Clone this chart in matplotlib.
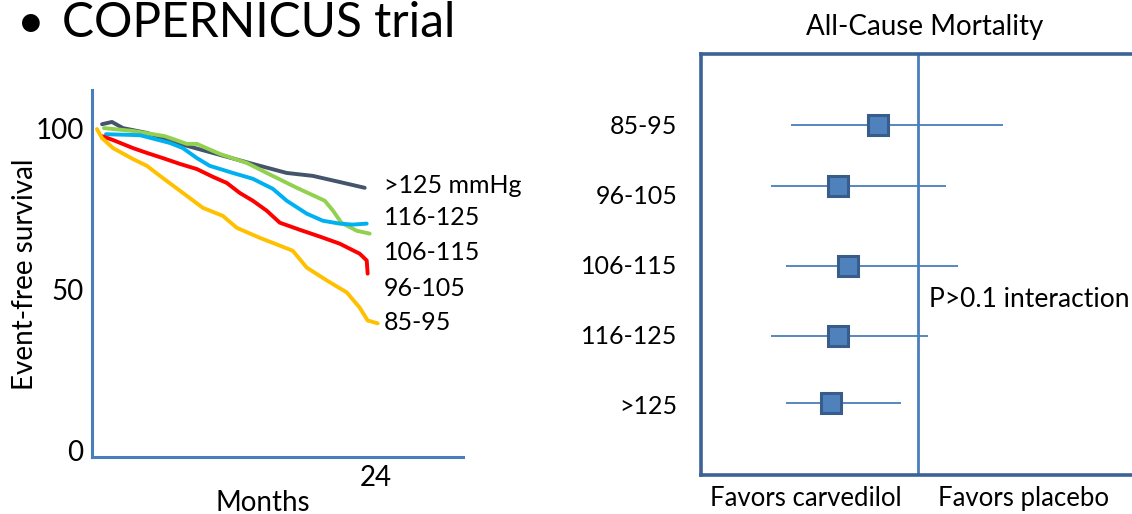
import matplotlib
matplotlib.use("Agg")
import matplotlib.pyplot as plt

plt.rcParams['font.family'] = ['Lato', 'DejaVu Sans']

# survival curves (months, % event-free)
blue_m = [0.85, 1.69, 2.62, 4.65, 6.0, 7.44, 10.23, 13.61, 16.48, 18.68, 20.96, 23.08]
blue_s = [101.2, 101.9, 100.0, 98.5, 96.9, 95.1, 92.3, 88.9, 86.1, 85.2, 83.3, 81.5]

green_m = [1.01, 3.47, 6.17, 8.03, 8.88, 10.82, 13.10, 14.79, 17.33, 19.70, 20.4, 21.1, 22.40, 23.50]
green_s = [100.0, 99.1, 97.5, 95.1, 95.1, 92.0, 89.2, 86.1, 81.5, 77.5, 74.4, 70.7, 68.2, 67.3]

cyan_m = [1.18, 4.06, 6.59, 7.69, 8.88, 9.97, 11.92, 13.61, 15.30, 16.48, 18.17, 19.53, 20.96, 22.06, 23.25]
cyan_s = [98.1, 97.8, 95.4, 93.8, 90.7, 88.3, 86.1, 84.3, 81.2, 77.5, 73.5, 71.3, 70.4, 70.1, 70.4]

red_m = [0.85, 1.78, 3.47, 4.65, 6.0, 7.44, 8.88, 10.23, 11.41, 12.51, 13.61, 14.79, 15.89,
         17.58, 19.27, 20.96, 22.65, 23.25, 23.33]
red_s = [97.5, 96.3, 93.8, 92.3, 90.7, 88.9, 87.3, 84.9, 83.0, 79.9, 77.5, 74.4, 70.7,
         68.5, 66.4, 64.2, 61.1, 59.0, 54.9]

orange_m = [0.42, 0.85, 1.78, 3.47, 4.65, 5.75, 7.44, 9.38, 11.07, 12.26, 14.20, 15.89, 16.99,
            18.17, 19.87, 21.56, 22.65, 23.33, 24.18]
orange_s = [99.7, 96.9, 93.8, 90.4, 88.3, 85.2, 80.6, 75.3, 72.8, 69.1, 66.0, 63.6, 62.0,
            56.8, 52.8, 49.1, 44.4, 40.4, 39.5]

curve_labels = [">125 mmHg", "116-125", "106-115", "96-105", "85-95"]
curve_label_y = [82.1, 72.2, 61.4, 50.3, 39.8]

# forest plot: all-cause mortality hazard ratios
groups = ["85-95", "96-105", "106-115", "116-125", ">125"]
group_pos = [1, 2, 3, 4, 5]
marker_pos = [1, 1.87, 3.01, 4.02, 4.97]
hr = [0.84, 0.68, 0.72, 0.68, 0.65]
ci_lo = [0.49, 0.41, 0.47, 0.41, 0.47]
ci_hi = [1.34, 1.11, 1.16, 1.04, 0.93]

fig = plt.figure(figsize=(11.32, 5.14), dpi=100)

fig.text(17 / 1132, 1 - 37 / 514, "\u2022", fontsize=34.5, va='baseline')
fig.text(62 / 1132, 1 - 37 / 514, "COPERNICUS trial", fontsize=34.5, va='baseline')

# left: survival curves
ax = fig.add_axes([92 / 1132, 57 / 514, 371 / 1132, 367 / 514])
ax.plot(blue_m, blue_s, color='#44546a', lw=2.8, solid_capstyle='round')
ax.plot(green_m, green_s, color='#92d050', lw=2.8, solid_capstyle='round')
ax.plot(cyan_m, cyan_s, color='#00b0f0', lw=2.8, solid_capstyle='round')
ax.plot(red_m, red_s, color='#ff0000', lw=2.8, solid_capstyle='round')
ax.plot(orange_m, orange_s, color='#ffc000', lw=2.8, solid_capstyle='round')
for lab, yy in zip(curve_labels, curve_label_y):
    ax.text(24.7, yy, lab, fontsize=18, va='center', ha='left')

ax.set_xlim(0, 31.4)
ax.set_ylim(-1.9, 111.8)
ax.set_yticks([0, 50, 100])
ax.set_xticks([24])
ax.tick_params(length=0, labelsize=20, pad=6)
ax.tick_params(axis='x', pad=6)
for s in ['top', 'right']:
    ax.spines[s].set_visible(False)
for s in ['left', 'bottom']:
    ax.spines[s].set_color('#4a7ebb')
    ax.spines[s].set_linewidth(2.2)
fig.text(25 / 1132, 1 - 274 / 514, "Event-free survival", fontsize=20,
         rotation=90, ha='center', va='center')
fig.text(263 / 1132, 3 / 514, "Months", fontsize=20, ha='center', va='baseline')

# right: forest plot
fx = fig.add_axes([701 / 1132, 39 / 514, 454 / 1132, 421 / 514])
fx.set_xlim(0.132, 1.948)
fx.set_ylim(6.0, -0.01)
fx.axvline(1.0, color='#4a7ebb', lw=2.0)
fx.hlines(marker_pos, ci_lo, ci_hi, color='#4a7ebb', lw=1.3)
fx.plot(hr, marker_pos, 's', ms=15, mfc='#4f81bd', mec='#385d8a', mew=2.2)
fx.set_yticks(group_pos)
fx.set_yticklabels(groups)
fx.set_xticks([])
fx.tick_params(length=0, labelsize=18, pad=17)
for s in fx.spines.values():
    s.set_color('#3d6396')
    s.set_linewidth(2.6)
fx.text(1.044, 3.49, "P>0.1 interaction", fontsize=19, va='center', ha='left')
fx.text(0.55, 6.33, "Favors carvedilol", fontsize=18.5, ha='center', va='center')
fx.text(1.42, 6.33, "Favors placebo", fontsize=18.5, ha='center', va='center')
fig.text(925 / 1132, 1 - 27 / 514, "All-Cause Mortality", fontsize=20, ha='center', va='center')

fig.savefig("out.png", dpi=100)
